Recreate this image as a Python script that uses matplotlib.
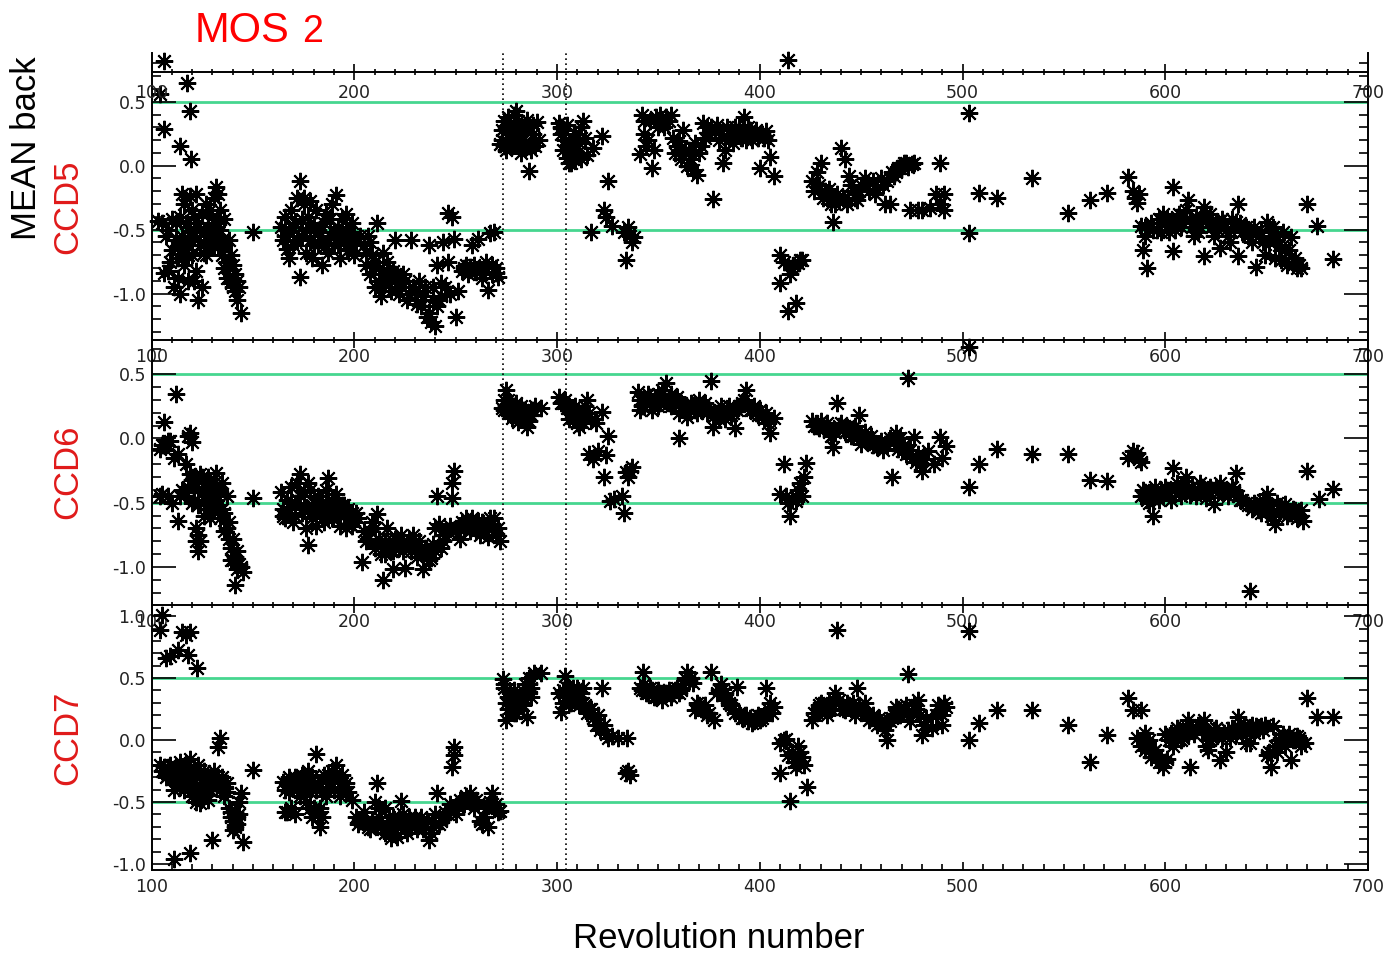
import matplotlib
matplotlib.use("Agg")
import matplotlib.pyplot as plt
from matplotlib.ticker import MultipleLocator, FormatStrFormatter

plt.rcParams['axes.unicode_minus'] = False

# (revolution, mean background) for each CCD of MOS2
ccd5 = [
    (104, 0.56), (106, 0.82), (106, 0.29), (114, 0.15), (117.5, 0.65), (119, 0.43), (119.5, 0.05),
    (103, -0.43), (105, -0.45), (106, -0.84), (108, -0.82), (108, -0.50), (110, -0.66), (110, -0.42),
    (111, -0.95), (112, -0.58), (113, -0.72), (114, -1.00), (114, -0.40), (115, -0.22), (115, -0.55),
    (116, -0.30), (116, -0.78), (117, -0.62), (118, -0.90), (118, -0.48), (119, -0.24), (120, -0.35),
    (120, -0.70), (121, -0.55), (122, -0.22), (122, -0.82), (123, -1.05), (123, -0.45), (124, -0.62),
    (125, -0.95), (125, -0.38), (126, -0.52), (127, -0.30), (127, -0.70), (128, -0.48), (129, -0.60),
    (130, -0.40), (130, -0.56), (131, -0.25), (132, -0.17), (132, -0.45), (133, -0.22), (133, -0.62),
    (134, -0.35), (134, -0.50), (135, -0.70), (136, -0.80), (136, -0.42), (137, -0.75), (138, -0.88),
    (138, -0.58), (139, -0.92), (140, -0.78), (141, -0.98), (142, -1.05), (143, -0.95), (144, -1.15),
    (150, -0.52),
    (107, -0.55), (109, -0.75), (112, -0.45), (113, -0.88), (116, -0.65), (117, -0.45), (119, -0.58),
    (121, -0.40), (121, -0.90), (124, -0.50), (126, -0.68), (128, -0.58), (129, -0.35), (131, -0.62),
    (132, -0.55), (133, -0.45), (135, -0.58), (136, -0.62), (137, -0.88), (139, -0.70), (140, -0.95),
    (141, -0.85), (142, -0.90), (118, -0.70), (114, -0.62),
    (164, -0.48), (165, -0.58), (166, -0.40), (167, -0.65), (168, -0.52), (169, -0.35), (170, -0.62),
    (171, -0.45), (172, -0.25), (173, -0.12), (173, -0.87), (174, -0.55), (175, -0.30), (176, -0.68),
    (177, -0.40), (178, -0.58), (179, -0.72), (180, -0.48), (181, -0.35), (182, -0.62), (183, -0.52),
    (184, -0.78), (185, -0.45), (186, -0.38), (187, -0.68), (188, -0.55), (189, -0.30), (190, -0.62),
    (191, -0.23), (192, -0.48), (193, -0.72), (194, -0.42), (195, -0.58), (196, -0.38), (197, -0.66),
    (198, -0.52), (199, -0.45), (200, -0.70), (201, -0.60), (203, -0.55),
    (166, -0.55), (168, -0.72), (170, -0.48), (172, -0.58), (174, -0.42), (176, -0.50), (178, -0.45),
    (180, -0.62), (182, -0.50), (184, -0.58), (186, -0.62), (188, -0.42), (190, -0.52), (192, -0.62),
    (194, -0.56), (196, -0.50), (198, -0.62), (200, -0.55), (175, -0.25), (178, -0.28),
    (205, -0.62), (206, -0.78), (207, -0.55), (208, -0.85), (209, -0.70), (210, -0.95), (211, -0.45),
    (212, -0.80), (213, -1.02), (214, -0.68), (215, -0.90), (216, -0.75), (218, -0.98), (219, -0.82),
    (220, -0.58), (221, -0.92), (222, -1.00), (224, -0.85), (226, -1.05), (228, -0.58), (229, -0.95),
    (231, -1.08), (232, -0.90), (234, -1.02), (236, -1.18), (237, -0.62), (238, -1.22), (239, -0.95),
    (240, -1.25), (241, -0.78), (242, -1.05), (243, -0.92), (244, -0.60), (246, -0.37), (246, -0.75),
    (247, -1.00), (248, -0.40), (249, -0.57), (250, -1.18), (251, -0.98),
    (206, -0.68), (208, -0.60), (210, -0.75), (212, -0.90), (214, -0.85), (217, -0.92), (220, -0.85),
    (223, -0.95), (225, -0.90), (227, -1.00), (230, -0.98), (233, -1.10), (235, -0.95), (237, -1.15),
    (239, -1.05), (241, -1.10), (243, -1.02), (245, -0.95),
    (253, -0.82), (255, -0.78), (257, -0.79), (258, -0.62), (260, -0.83), (261, -0.57), (263, -0.88),
    (264, -0.80), (266, -0.97), (267, -0.53), (268, -0.85), (269, -0.52), (270, -0.80), (271, -0.87),
    (254, -0.80), (256, -0.85), (259, -0.78), (262, -0.82), (265, -0.75), (268, -0.78), (270, -0.84),
    (272, 0.17), (273, 0.28), (274, 0.35), (275, 0.12), (276, 0.22), (277, 0.33), (278, 0.15),
    (279, 0.40), (280, 0.43), (281, 0.22), (282, 0.10), (283, 0.30), (284, 0.18), (285, 0.36),
    (286, -0.04), (287, 0.12), (288, 0.25), (290, 0.34), (291, 0.20),
    (273, 0.20), (274, 0.15), (275, 0.30), (276, 0.38), (278, 0.25), (279, 0.18), (280, 0.30),
    (281, 0.35), (283, 0.20), (284, 0.28), (286, 0.15), (288, 0.32), (289, 0.15),
    (301, 0.33), (302, 0.30), (303, 0.12), (304, 0.20), (305, 0.06), (306, 0.15), (307, 0.02),
    (308, 0.05), (309, 0.25), (310, 0.10), (312, 0.30), (313, 0.35), (315, 0.08), (317, -0.52),
    (318, 0.14), (322, 0.23), (323, -0.35), (324, -0.40), (325, -0.12), (327, -0.47), (333, -0.52),
    (334, -0.74), (335, -0.48), (336, -0.55), (338, -0.56), (337, -0.60),
    (302, 0.25), (304, 0.28), (305, 0.32), (306, 0.02), (307, 0.10), (308, 0.20), (309, 0.05),
    (311, 0.18), (312, 0.05), (314, 0.22),
    (341, 0.09), (342, 0.40), (343, 0.25), (344, 0.15), (346, 0.35), (347, -0.02), (348, 0.12),
    (350, 0.30), (352, 0.35), (354, 0.38), (356, 0.40), (357, 0.22), (358, 0.10), (360, 0.19),
    (361, 0.05), (362, 0.28), (364, 0.00), (365, 0.12), (367, -0.03), (369, -0.07), (370, 0.10),
    (372, 0.33), (374, 0.30), (375, 0.25), (377, -0.26), (378, 0.28), (380, 0.20), (382, 0.02),
    (383, 0.12), (385, 0.22), (387, 0.18), (389, 0.25), (390, 0.30), (392, 0.38), (393, 0.20),
    (395, 0.28), (397, 0.25), (399, 0.22), (400, -0.02), (401, 0.25), (403, 0.27), (405, 0.07),
    (407, -0.08),
    (343, 0.35), (345, 0.20), (349, 0.38), (351, 0.40), (353, 0.30), (355, 0.35), (359, 0.15),
    (363, 0.12), (366, 0.05), (368, 0.18), (371, 0.15), (373, 0.22), (376, 0.30), (379, 0.32),
    (381, 0.25), (384, 0.30), (386, 0.28), (388, 0.30), (391, 0.22), (394, 0.30), (396, 0.20),
    (398, 0.28), (402, 0.22), (404, 0.20),
    (410, -0.70), (410, -0.92), (412, -0.75), (414, -1.14), (414, 0.83), (415, -0.85), (416, -0.80),
    (417, -0.78), (418, -1.07), (419, -0.76), (420, -0.74), (421, -0.74),
    (426, -0.12), (428, -0.05), (430, 0.02), (432, -0.20), (433, -0.25), (435, -0.30), (436, -0.44),
    (438, -0.22), (440, 0.14), (442, 0.05), (444, -0.08), (446, -0.20), (448, -0.27), (450, -0.15),
    (452, -0.10), (454, -0.20), (456, -0.12), (458, -0.18), (460, -0.10), (462, -0.30), (464, -0.30),
    (466, -0.08), (468, -0.02), (470, 0.00), (472, 0.02), (473, -0.01), (474, -0.35), (476, 0.02),
    (478, -0.35), (480, -0.35), (484, -0.33), (487, -0.22), (489, 0.02), (489, -0.30), (491, -0.35),
    (491, -0.22),
    (427, -0.20), (429, -0.15), (431, -0.25), (434, -0.18), (437, -0.30), (439, -0.28), (441, -0.25),
    (443, -0.30), (445, -0.15), (447, -0.25), (449, -0.20), (453, -0.15), (457, -0.22), (461, -0.15),
    (463, -0.12), (465, -0.05), (467, -0.05), (469, -0.02), (471, 0.02), (475, 0.01),
    (503, 0.41), (503, -0.53), (508, -0.21), (517, -0.25), (534.5, -0.10), (552, -0.37), (563, -0.27),
    (571.5, -0.21), (581.5, -0.09), (584, -0.20), (585, -0.25), (586, -0.29), (587, -0.22),
    (588, -0.47), (589, -0.66), (590, -0.55), (591, -0.80), (594, -0.50), (597, -0.42), (599, -0.38),
    (600, -0.45), (602, -0.52), (604, -0.17), (604, -0.67), (606, -0.40), (608, -0.48), (610, -0.35),
    (611, -0.27), (612, -0.42), (614, -0.55), (615, -0.40), (617, -0.48), (619, -0.32), (619, -0.71),
    (621, -0.45), (622, -0.38), (624, -0.55), (625, -0.45), (627, -0.64), (628, -0.42), (630, -0.50),
    (632, -0.60), (634, -0.48), (635, -0.44), (636, -0.30), (636, -0.71), (638, -0.52), (641, -0.55),
    (643, -0.60), (645, -0.79), (647, -0.52), (649, -0.70), (650, -0.44), (651, -0.60), (653, -0.48),
    (655, -0.55), (657, -0.74), (659, -0.66), (660, -0.78), (662, -0.56), (664, -0.72), (666, -0.78),
    (667, -0.80), (670, -0.30), (675, -0.47), (682.5, -0.73),
    (590, -0.48), (593, -0.45), (596, -0.50), (598, -0.52), (601, -0.42), (603, -0.45), (605, -0.50),
    (607, -0.38), (609, -0.45), (613, -0.48), (616, -0.52), (618, -0.42), (620, -0.38), (623, -0.48),
    (626, -0.50), (629, -0.45), (631, -0.55), (633, -0.42), (637, -0.45), (640, -0.48), (642, -0.52),
    (644, -0.48), (646, -0.55), (648, -0.60), (652, -0.52), (654, -0.72), (656, -0.62), (658, -0.52),
    (661, -0.66), (663, -0.78), (665, -0.80),
]

ccd6 = [
    (104, -0.45), (105, -0.05), (105, -0.43), (106, 0.13), (107, -0.05), (108, -0.02), (110, -0.50),
    (111, -0.15), (112, 0.35), (113, -0.64), (113, -0.12), (114, -0.45), (115, -0.40), (117, -0.20),
    (118, 0.02), (119, 0.04), (119, -0.28), (120, -0.03), (120, -0.32), (121, -0.48), (122, -0.70),
    (122, -0.35), (123, -0.88), (123, -0.52), (124, -0.80), (124, -0.28), (125, -0.42), (126, -0.60),
    (126, -0.38), (127, -0.52), (128, -0.30), (129, -0.45), (130, -0.36), (131, -0.55), (132, -0.27),
    (132, -0.48), (133, -0.40), (134, -0.62), (135, -0.35), (135, -0.55), (136, -0.72), (137, -0.45),
    (138, -0.65), (139, -0.85), (140, -0.78), (140, -0.95), (141, -1.14), (142, -0.88), (143, -0.98),
    (144, -1.00), (145, -1.04), (150, -0.46),
    (104, -0.08), (106, -0.05), (108, -0.45), (109, -0.02), (116, -0.42), (118, -0.38), (120, -0.50),
    (121, -0.30), (123, -0.40), (125, -0.30), (126, -0.48), (127, -0.38), (128, -0.55), (129, -0.62),
    (130, -0.45), (131, -0.35), (133, -0.52), (134, -0.42), (136, -0.58), (137, -0.70), (138, -0.78),
    (139, -0.95), (141, -0.92), (142, -1.02), (122, -0.80), (123, -0.75),
    (164, -0.42), (165, -0.55), (166, -0.62), (167, -0.48), (168, -0.58), (169, -0.38), (170, -0.65),
    (171, -0.50), (172, -0.35), (173, -0.28), (174, -0.58), (175, -0.42), (176, -0.70), (177, -0.83),
    (177, -0.55), (178, -0.40), (179, -0.62), (180, -0.50), (181, -0.68), (182, -0.45), (183, -0.58),
    (184, -0.52), (185, -0.65), (186, -0.40), (187, -0.31), (188, -0.55), (189, -0.62), (190, -0.50),
    (191, -0.43), (192, -0.58), (193, -0.68), (194, -0.52), (195, -0.60), (196, -0.70), (197, -0.55),
    (198, -0.62), (199, -0.58), (200, -0.65),
    (165, -0.60), (167, -0.58), (169, -0.50), (171, -0.60), (173, -0.45), (175, -0.55), (177, -0.35),
    (179, -0.52), (181, -0.58), (183, -0.48), (185, -0.55), (187, -0.62), (189, -0.48), (191, -0.55),
    (193, -0.60), (195, -0.52), (197, -0.62), (199, -0.68), (201, -0.58),
    (202, -0.62), (204, -0.96), (205, -0.72), (207, -0.78), (209, -0.65), (210, -0.85), (211, -0.59),
    (212, -0.78), (213, -0.90), (214, -1.10), (215, -0.80), (216, -0.70), (218, -0.88), (219, -1.02),
    (220, -0.78), (222, -0.85), (223, -0.75), (225, -1.01), (226, -0.82), (228, -0.88), (229, -0.75),
    (231, -0.92), (233, -0.85), (234, -1.02), (236, -0.90), (238, -0.93), (239, -0.82), (240, -0.70),
    (241, -0.45), (242, -0.67), (243, -0.85), (245, -0.75), (247, -0.68), (248, -0.35), (248, -0.46),
    (249, -0.25), (250, -0.72), (252, -0.78), (254, -0.70), (255, -0.62), (257, -0.72), (259, -0.68),
    (261, -0.64), (262, -0.75), (264, -0.68), (266, -0.77), (267, -0.62), (268, -0.70), (269, -0.62),
    (270, -0.75), (272, -0.80),
    (206, -0.80), (208, -0.72), (210, -0.70), (213, -0.82), (215, -0.90), (217, -0.82), (219, -0.88),
    (221, -0.80), (224, -0.88), (227, -0.78), (230, -0.85), (232, -0.80), (235, -0.85), (237, -0.95),
    (240, -0.88), (244, -0.80), (246, -0.72), (251, -0.70), (253, -0.65), (256, -0.68), (258, -0.62),
    (260, -0.72), (263, -0.65), (265, -0.72), (271, -0.70),
    (273, 0.24), (274, 0.30), (275, 0.38), (276, 0.20), (277, 0.28), (278, 0.16), (279, 0.25),
    (280, 0.22), (281, 0.13), (282, 0.18), (283, 0.22), (284, 0.15), (285, 0.09), (286, 0.20),
    (287, 0.18), (288, 0.22), (289, 0.25), (292, 0.24),
    (274, 0.22), (275, 0.25), (276, 0.30), (277, 0.20), (278, 0.25), (279, 0.18), (280, 0.28),
    (281, 0.20), (282, 0.25), (283, 0.15), (284, 0.22), (286, 0.14), (287, 0.22),
    (301, 0.32), (303, 0.28), (305, 0.24), (306, 0.15), (308, 0.22), (309, 0.18), (310, 0.12),
    (311, 0.09), (312, 0.20), (314, 0.25), (315, 0.30), (316, -0.12), (317, 0.15), (318, -0.16),
    (319, 0.12), (320, -0.10), (322, 0.21), (323, -0.30), (324, -0.13), (325, 0.02), (326, -0.49),
    (328, -0.47), (332, -0.45), (333, -0.58), (334, -0.26), (335, -0.30), (336, -0.25), (337, -0.22),
    (302, 0.28), (304, 0.30), (306, 0.25), (307, 0.20), (308, 0.16), (309, 0.25), (311, 0.18),
    (313, 0.12), (314, 0.15), (316, 0.20),
    (340, 0.36), (341, 0.22), (342, 0.30), (343, 0.25), (345, 0.35), (346, 0.28), (347, 0.22),
    (349, 0.30), (350, 0.25), (352, 0.38), (354, 0.43), (355, 0.28), (356, 0.35), (358, 0.30),
    (360, 0.00), (360, 0.20), (362, 0.25), (364, 0.17), (366, 0.28), (368, 0.22), (370, 0.30),
    (372, 0.25), (374, 0.20), (376, 0.45), (377, 0.09), (379, 0.20), (381, 0.25), (383, 0.15),
    (384, 0.22), (386, 0.18), (388, 0.08), (390, 0.25), (392, 0.30), (393, 0.38), (395, 0.22),
    (397, 0.25), (399, 0.18), (400, 0.22), (402, 0.15), (403, 0.20), (405, 0.04), (407, 0.16),
    (341, 0.30), (342, 0.25), (344, 0.28), (346, 0.32), (348, 0.26), (350, 0.35), (351, 0.28),
    (353, 0.32), (356, 0.25), (357, 0.28), (359, 0.32), (361, 0.28), (363, 0.25), (365, 0.22),
    (367, 0.26), (369, 0.20), (371, 0.22), (373, 0.28), (375, 0.22), (378, 0.18), (380, 0.15),
    (382, 0.20), (385, 0.25), (387, 0.20), (389, 0.22), (391, 0.28), (394, 0.25), (396, 0.22),
    (398, 0.20), (401, 0.18), (404, 0.12),
    (410, -0.43), (412, -0.20), (413, -0.45), (414, -0.50), (415, -0.60), (416, -0.48), (418, -0.49),
    (419, -0.40), (420, -0.35), (421, -0.45), (422, -0.30), (423, -0.19),
    (426, 0.14), (428, 0.10), (430, 0.14), (432, 0.08), (434, 0.05), (436, -0.07), (438, 0.28),
    (440, 0.12), (442, 0.05), (443, 0.09), (445, 0.02), (447, 0.10), (449, 0.18), (450, -0.04),
    (452, 0.05), (454, -0.02), (456, -0.05), (458, -0.07), (460, -0.02), (461, -0.09), (463, -0.05),
    (465, -0.30), (467, 0.04), (469, 0.00), (471, -0.05), (473, 0.47), (474, -0.09), (476, 0.01),
    (478, -0.12), (480, -0.25), (481, -0.16), (483, -0.10), (486, -0.20), (489, 0.01), (490, -0.15),
    (492, -0.06),
    (427, 0.10), (429, 0.08), (431, 0.10), (433, 0.12), (435, 0.02), (437, 0.05), (439, 0.10),
    (441, 0.08), (444, 0.05), (446, 0.02), (448, 0.06), (451, 0.00), (453, -0.02), (455, 0.02),
    (457, -0.04), (459, -0.06), (462, -0.04), (464, 0.00), (466, -0.02), (468, -0.08), (470, -0.10),
    (472, -0.12), (475, -0.15), (477, -0.18), (479, -0.20),
    (503, 0.71), (503, -0.38), (508, -0.20), (517, -0.08), (534.5, -0.12), (552, -0.12), (563, -0.32),
    (571.5, -0.33), (581.5, -0.15), (584, -0.10), (586, -0.11), (587, -0.16), (588, -0.18),
    (588, -0.45), (590, -0.42), (592, -0.50), (594, -0.60), (596, -0.45), (598, -0.40), (600, -0.38),
    (602, -0.42), (603, -0.48), (604, -0.23), (606, -0.35), (608, -0.45), (610, -0.30), (611, -0.40),
    (613, -0.38), (615, -0.45), (617, -0.35), (619, -0.41), (620, -0.46), (622, -0.38), (624, -0.51),
    (626, -0.42), (627, -0.35), (629, -0.40), (631, -0.45), (633, -0.38), (635, -0.27), (636, -0.45),
    (638, -0.48), (641, -0.52), (642, -1.19), (644, -0.50), (646, -0.56), (648, -0.48), (650, -0.43),
    (652, -0.60), (654, -0.67), (655, -0.50), (657, -0.55), (659, -0.51), (661, -0.58), (663, -0.55),
    (665, -0.62), (667, -0.56), (668, -0.64), (670, -0.25), (676, -0.47), (682.5, -0.39),
    (589, -0.40), (591, -0.48), (593, -0.42), (595, -0.38), (597, -0.48), (599, -0.45), (601, -0.40),
    (605, -0.40), (607, -0.42), (609, -0.38), (612, -0.44), (614, -0.40), (616, -0.42), (618, -0.38),
    (621, -0.42), (623, -0.40), (625, -0.38), (628, -0.42), (630, -0.40), (632, -0.42), (634, -0.40),
    (637, -0.48), (640, -0.50), (643, -0.55), (645, -0.52), (647, -0.58), (649, -0.55), (651, -0.52),
    (653, -0.60), (656, -0.58), (658, -0.55), (660, -0.60), (662, -0.58), (664, -0.56), (666, -0.60),
]

ccd7 = [
    (105, 1.01), (104, 0.89), (107, 0.66), (109, 0.68), (113, 0.73), (115, 0.87), (117, 0.85),
    (118, 0.69), (119, 0.87), (122.5, 0.58),
    (104, -0.20), (106, -0.22), (108, -0.28), (109, -0.20), (110, -0.30), (111, -0.40), (111, -0.96),
    (112, -0.25), (113, -0.35), (114, -0.18), (115, -0.28), (116, -0.40), (117, -0.22), (118, -0.32),
    (119, -0.91), (119, -0.15), (120, -0.45), (121, -0.28), (122, -0.38), (123, -0.20), (124, -0.51),
    (124, -0.30), (125, -0.42), (126, -0.25), (127, -0.35), (128, -0.48), (129, -0.30), (130, -0.81),
    (130, -0.38), (131, -0.25), (132, -0.32), (133, -0.06), (134, 0.02), (134, -0.40), (135, -0.30),
    (136, -0.45), (137, -0.35), (138, -0.55), (139, -0.62), (140, -0.73), (141, -0.58), (142, -0.68),
    (143, -0.50), (144, -0.43), (145, -0.82), (150, -0.24),
    (105, -0.25), (107, -0.30), (108, -0.22), (110, -0.25), (112, -0.32), (113, -0.28), (114, -0.38),
    (116, -0.30), (117, -0.35), (118, -0.25), (120, -0.30), (121, -0.38), (122, -0.28), (123, -0.42),
    (125, -0.35), (126, -0.45), (127, -0.40), (128, -0.30), (129, -0.40), (131, -0.35), (133, -0.30),
    (135, -0.38), (137, -0.42), (139, -0.58), (140, -0.65), (141, -0.70), (142, -0.62), (143, -0.60),
    (124, -0.45), (122, -0.50),
    (165, -0.34), (166, -0.40), (167, -0.58), (168, -0.30), (169, -0.55), (170, -0.38), (171, -0.60),
    (172, -0.32), (173, -0.45), (174, -0.28), (175, -0.38), (176, -0.50), (177, -0.25), (178, -0.42),
    (179, -0.30), (180, -0.55), (181, -0.11), (182, -0.35), (183, -0.70), (184, -0.62), (185, -0.28),
    (186, -0.45), (187, -0.35), (188, -0.30), (189, -0.25), (190, -0.40), (191, -0.20), (192, -0.32),
    (193, -0.45), (194, -0.28), (195, -0.38), (196, -0.35), (197, -0.42), (199, -0.48),
    (166, -0.58), (168, -0.42), (169, -0.35), (171, -0.30), (172, -0.40), (174, -0.35), (175, -0.30),
    (176, -0.40), (177, -0.35), (178, -0.55), (179, -0.62), (180, -0.35), (181, -0.40), (182, -0.58),
    (183, -0.55), (184, -0.42), (186, -0.32), (187, -0.28), (188, -0.38), (190, -0.30), (192, -0.40),
    (194, -0.35), (196, -0.42),
    (201, -0.62), (203, -0.65), (205, -0.58), (207, -0.70), (209, -0.65), (210, -0.50), (211, -0.35),
    (212, -0.62), (214, -0.72), (215, -0.55), (216, -0.68), (218, -0.79), (219, -0.62), (220, -0.72),
    (222, -0.65), (223, -0.49), (224, -0.60), (226, -0.75), (228, -0.70), (230, -0.62), (232, -0.68),
    (234, -0.72), (236, -0.65), (237, -0.81), (239, -0.70), (240, -0.60), (241, -0.43), (243, -0.65),
    (245, -0.58), (247, -0.52), (248, -0.22), (249, -0.06), (249, -0.12), (250, -0.60), (251, -0.54),
    (253, -0.50), (255, -0.45), (257, -0.43), (259, -0.55), (260, -0.48), (262, -0.65), (264, -0.62),
    (265, -0.55), (267, -0.50), (268, -0.43), (270, -0.52), (271, -0.58), (272, -0.57),
    (202, -0.68), (204, -0.62), (206, -0.65), (208, -0.72), (210, -0.68), (212, -0.55), (213, -0.70),
    (215, -0.75), (217, -0.62), (219, -0.70), (221, -0.78), (223, -0.68), (225, -0.72), (227, -0.62),
    (229, -0.65), (231, -0.72), (233, -0.62), (235, -0.70), (238, -0.75), (242, -0.68), (244, -0.62),
    (246, -0.60), (252, -0.48), (254, -0.52), (256, -0.48), (258, -0.50), (261, -0.52), (263, -0.68),
    (266, -0.70), (269, -0.55),
    (273.5, 0.49), (274, 0.42), (275, 0.16), (276, 0.35), (277, 0.29), (278, 0.25), (279, 0.40),
    (280, 0.22), (281, 0.30), (282, 0.28), (283, 0.35), (284, 0.38), (285, 0.19), (286, 0.45),
    (287, 0.42), (288.5, 0.54), (292, 0.54),
    (274, 0.45), (275, 0.30), (276, 0.25), (277, 0.38), (278, 0.32), (279, 0.22), (280, 0.30),
    (281, 0.24), (282, 0.35), (283, 0.28), (284, 0.45), (285, 0.40), (286, 0.50), (287, 0.35),
    (302, 0.23), (303, 0.40), (304, 0.52), (305, 0.42), (306, 0.30), (307, 0.38), (308, 0.35),
    (310, 0.42), (311, 0.28), (312, 0.30), (313, 0.42), (315, 0.22), (317, 0.25), (318, 0.18),
    (320, 0.20), (322, 0.42), (323, 0.12), (324, 0.05), (325, 0.02), (327, 0.03), (330, 0.02),
    (334.5, 0.02), (334, -0.27), (335, -0.25), (336, -0.28),
    (301, 0.38), (303, 0.30), (304, 0.35), (306, 0.40), (307, 0.30), (308, 0.42), (309, 0.32),
    (310, 0.35), (312, 0.38), (313, 0.30), (314, 0.28), (316, 0.25), (319, 0.12), (321, 0.08),
    (341, 0.42), (342.5, 0.55), (344, 0.38), (346, 0.42), (348, 0.35), (350, 0.40), (352, 0.32),
    (354, 0.38), (356, 0.35), (358, 0.40), (360, 0.38), (362, 0.45), (364, 0.55), (366, 0.50),
    (367, 0.46), (368, 0.24), (370, 0.28), (372, 0.24), (374, 0.20), (376, 0.55), (377.5, 0.16),
    (379, 0.38), (381, 0.45), (382, 0.41), (384, 0.32), (386, 0.28), (388, 0.22), (389, 0.43),
    (390, 0.22), (392, 0.18), (394, 0.15), (396, 0.14), (398, 0.18), (400, 0.16), (402, 0.20),
    (403, 0.42), (405, 0.30), (407, 0.27),
    (342, 0.40), (343, 0.45), (345, 0.38), (347, 0.40), (349, 0.35), (351, 0.38), (353, 0.36),
    (355, 0.40), (357, 0.38), (359, 0.42), (361, 0.40), (363, 0.50), (365, 0.48), (369, 0.30),
    (371, 0.25), (373, 0.28), (375, 0.22), (380, 0.40), (383, 0.38), (385, 0.30), (387, 0.25),
    (391, 0.18), (393, 0.20), (395, 0.18), (397, 0.15), (399, 0.20), (401, 0.18), (404, 0.25),
    (406, 0.22),
    (410, -0.02), (410, -0.27), (412, 0.00), (413, 0.01), (414, -0.12), (415, -0.49), (416, -0.10),
    (417, -0.18), (418, -0.22), (419, -0.05), (420, -0.10), (421, -0.14), (422, -0.20), (423.5, -0.38),
    (426, 0.16), (428, 0.22), (430, 0.30), (431, 0.27), (433, 0.20), (435, 0.25), (437, 0.38),
    (438, 0.89), (440, 0.28), (442, 0.24), (443, 0.30), (445, 0.25), (447, 0.20), (448, 0.42),
    (450, 0.24), (452, 0.30), (454, 0.16), (456, 0.20), (458, 0.12), (460, 0.14), (462, 0.08),
    (463, 0.00), (465, 0.18), (467, 0.27), (469, 0.20), (471, 0.25), (473, 0.53), (474, 0.15),
    (476, 0.28), (478, 0.32), (480, 0.04), (482, 0.18), (485, 0.10), (487, 0.20), (489, 0.24),
    (490, 0.12), (491, 0.30), (492, 0.27),
    (427, 0.22), (429, 0.28), (432, 0.25), (434, 0.30), (436, 0.28), (439, 0.32), (441, 0.25),
    (444, 0.28), (446, 0.30), (449, 0.28), (451, 0.25), (453, 0.20), (455, 0.18), (457, 0.15),
    (459, 0.18), (461, 0.12), (464, 0.15), (466, 0.20), (468, 0.25), (470, 0.22), (472, 0.28),
    (475, 0.22), (477, 0.25), (479, 0.20), (481, 0.12), (488, 0.28), (490, 0.20),
    (503, 0.88), (503, 0.00), (508, 0.14), (517, 0.24), (534.5, 0.24), (552, 0.12), (563, -0.18),
    (571.5, 0.04), (581.5, 0.34), (584, 0.24), (586, 0.02), (588, 0.24),
    (588, -0.05), (590, 0.06), (591, -0.02), (593, -0.14), (595, -0.08), (597, -0.18), (599, -0.22),
    (600, 0.05), (601, -0.15), (603, 0.06), (604, -0.05), (606, 0.10), (608, 0.00), (610, 0.08),
    (611, 0.16), (612, -0.22), (614, 0.05), (616, 0.12), (618, 0.08), (619, 0.16), (620, -0.05),
    (621, -0.08), (623, 0.02), (625, 0.10), (627, -0.16), (629, 0.06), (630, -0.10), (632, 0.02),
    (634, 0.08), (636, 0.19), (638, 0.05), (640, -0.02), (642, -0.02), (644, 0.06), (646, 0.10),
    (647, 0.11), (649, 0.12), (650, -0.12), (652, -0.22), (653, 0.11), (655, -0.10), (657, 0.02),
    (659, -0.05), (661, 0.05), (662, -0.16), (664, 0.00), (665, 0.03), (667, -0.05), (669, -0.02),
    (670, 0.34), (675, 0.19), (682.5, 0.19),
    (589, 0.02), (590, -0.08), (592, 0.00), (594, -0.10), (596, -0.12), (598, -0.15), (600, -0.18),
    (602, 0.00), (605, 0.05), (607, 0.08), (609, 0.02), (611, 0.05), (613, 0.10), (615, 0.08),
    (617, 0.12), (620, 0.05), (622, 0.00), (624, 0.08), (626, 0.05), (628, 0.02), (631, 0.08),
    (633, 0.10), (635, 0.05), (637, 0.10), (639, 0.12), (641, 0.10), (643, 0.12), (645, 0.11),
    (648, 0.08), (651, -0.10), (654, -0.05), (656, 0.00), (658, 0.05), (660, 0.02), (663, 0.00),
    (666, 0.02),
]

panels = [ccd5, ccd6, ccd7]
ccd_names = ['CCD5', 'CCD6', 'CCD7']
ylims = [(-1.363, 0.881), (-1.297, 0.767), (-1.049, 1.09)]
limit_levels = [-0.5, 0.5]
window_revs = [273.5, 304.5]

W, H = 1386, 958
fig = plt.figure(figsize=(W / 100, H / 100), dpi=100)
fig.patch.set_facecolor('white')

left = 151.5 / W
width = 1216.5 / W
# pixel rows (top, bottom) of the three panels
rows = [(53, 340), (340, 605), (605, 870)]

axes = []
for i, (top, bot) in enumerate(rows):
    ax = fig.add_axes([left, 1 - bot / H, width, (bot - top) / H])
    ax.set_xlim(100, 700)
    ax.set_ylim(*ylims[i])
    ax.patch.set_alpha(0)
    ax.spines['top'].set_visible(False)
    for s in ['left', 'right', 'bottom']:
        ax.spines[s].set_linewidth(1.4)
    ax.xaxis.set_major_locator(MultipleLocator(100))
    ax.xaxis.set_minor_locator(MultipleLocator(10))
    ax.yaxis.set_major_locator(MultipleLocator(0.5))
    ax.yaxis.set_minor_locator(MultipleLocator(0.1))
    ax.yaxis.set_major_formatter(FormatStrFormatter('%.1f'))
    ax.tick_params(axis='y', which='both', direction='in', left=True, right=True,
                   labelsize=12.5, labelcolor='#222222', pad=4, width=1.2)
    ax.tick_params(axis='y', which='major', length=17)
    ax.tick_params(axis='y', which='minor', length=6.5)
    if i < 2:
        ax.tick_params(axis='x', which='both', direction='inout', top=False,
                       labelsize=12.5, labelcolor='#222222', pad=0.5, width=1.2)
        ax.tick_params(axis='x', which='major', length=11)
        ax.tick_params(axis='x', which='minor', length=4.5)
    else:
        ax.tick_params(axis='x', which='both', direction='in', top=False,
                       labelsize=12.5, labelcolor='#222222', pad=6, width=1.2)
        ax.tick_params(axis='x', which='major', length=6)
        ax.tick_params(axis='x', which='minor', length=4.5)

    for lev in limit_levels:
        ax.axhline(lev, color='#46d68f', lw=2, zorder=1)
    for rv in window_revs:
        ax.axvline(rv, color='black', ls=(0, (1, 2)), lw=1.2, zorder=1)

    xs = [p[0] for p in panels[i]]
    ys = [p[1] for p in panels[i]]
    ax.plot(xs, ys, ls='none', marker=(8, 2, 0), ms=12.5, mew=1.45, color='black',
            clip_on=False, zorder=3)
    axes.append(ax)

# revolution axis drawn across the top of the first panel
tax = fig.add_axes([left, 1 - 72 / H, width, 0.0001])
tax.set_xlim(100, 700)
tax.patch.set_alpha(0)
for s in ['left', 'right', 'top']:
    tax.spines[s].set_visible(False)
tax.spines['bottom'].set_linewidth(1.4)
tax.set_yticks([])
tax.xaxis.set_major_locator(MultipleLocator(100))
tax.xaxis.set_minor_locator(MultipleLocator(10))
tax.tick_params(axis='x', which='both', direction='inout', labelsize=12.5,
                labelcolor='#222222', pad=3, width=1.2)
tax.tick_params(axis='x', which='major', length=11)
tax.tick_params(axis='x', which='minor', length=4.5)

# titles and labels
fig.text(195 / W, 1 - 42 / H, 'MOS', color='#ff0000', fontsize=30,
         family='Liberation Sans', ha='left', va='baseline')
fig.text(302 / W, 1 - 42 / H, '2', color='#ff0000', fontsize=27,
         family='Liberation Sans', ha='left', va='baseline')
fig.text(27 / W, 1 - 148 / H, 'MEAN back', color='black', fontsize=25,
         family='Liberation Sans', rotation=90, ha='center', va='center')
for name, yc in zip(ccd_names, [207, 472, 738]):
    fig.text(68 / W, 1 - yc / H, name, color='#e01a1a', fontsize=25,
             family='Liberation Sans', rotation=90, ha='center', va='center')
fig.text(719 / W, 1 - 938 / H, 'Revolution number', color='black', fontsize=25,
         family='Liberation Sans', ha='center', va='center')

fig.savefig('out.png', dpi=100, facecolor='white')
